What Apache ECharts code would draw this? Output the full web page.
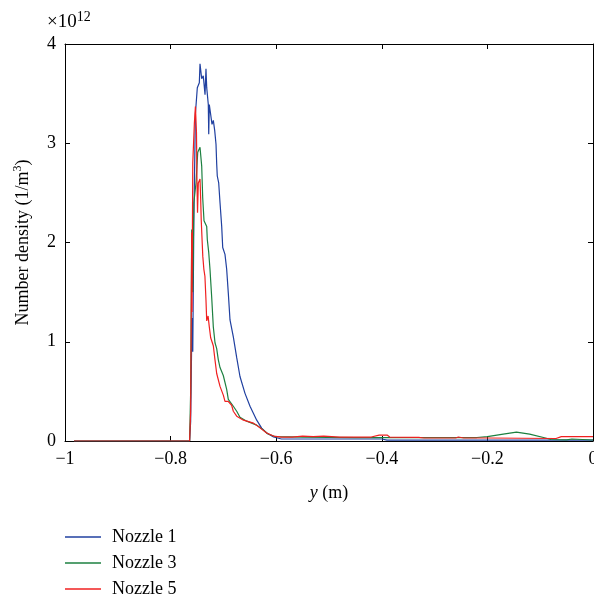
<!DOCTYPE html>
<html>
<head>
<meta charset="utf-8">
<script src="https://cdn.jsdelivr.net/npm/echarts@6/dist/echarts.min.js"></script>
<style>html,body{margin:0;padding:0;background:#fff;overflow:hidden}#c{width:594px;height:601px}</style>
</head>
<body>
<div id="c"></div>
<script>
// values in units of 1e12 (1/m^3)
var nozzle1X = [-0.983,-0.764,-0.762,-0.7595,-0.758,-0.756,-0.753,-0.7494,-0.7456,-0.7443,-0.7411,-0.7381,-0.7348,-0.7330,-0.7316,-0.7286,-0.7278,-0.7267,-0.7241,-0.7216,-0.7191,-0.7165,-0.7140,-0.7127,-0.7116,-0.7089,-0.7064,-0.7032,-0.7013,-0.6970,-0.6938,-0.6907,-0.6875,-0.6812,-0.6748,-0.6686,-0.6591,-0.6496,-0.6369,-0.6275,-0.6180,-0.605,-0.59,-0.40,-0.39,0];
var nozzle1Y = [0,0,0.2,1.24,0.9,2.2,3.3,3.56,3.61,3.80,3.65,3.68,3.49,3.75,3.56,3.39,3.09,3.39,3.29,3.19,3.23,3.13,2.99,2.79,2.67,2.60,2.40,2.16,1.95,1.88,1.73,1.49,1.22,1.05,0.84,0.65,0.48,0.35,0.21,0.13,0.08,0.04,0.02,0.02,0.008,0.008];
var nozzle3X = [-0.983,-0.764,-0.762,-0.760,-0.758,-0.756,-0.7519,-0.7486,-0.7443,-0.7411,-0.7392,-0.7367,-0.7316,-0.7305,-0.7278,-0.7254,-0.7222,-0.7191,-0.7159,-0.7127,-0.7097,-0.7064,-0.7002,-0.6938,-0.6907,-0.6812,-0.6748,-0.6686,-0.6559,-0.6369,-0.6244,-0.6155,-0.6023,-0.55,-0.45,-0.40,-0.33,-0.22,-0.20,-0.17,-0.145,-0.12,-0.09,-0.08,-0.05,-0.04,0];
var nozzle3Y = [0,0,0.5,2.13,1.5,2.4,2.6,2.91,2.96,2.77,2.45,2.22,2.16,2.03,1.90,1.73,1.45,1.15,0.99,0.93,0.82,0.74,0.66,0.52,0.42,0.35,0.30,0.24,0.20,0.16,0.11,0.07,0.045,0.04,0.035,0.033,0.035,0.035,0.045,0.07,0.09,0.07,0.03,0.015,0.012,0.02,0.01];
var nozzle5X = [-0.983,-0.764,-0.762,-0.760,-0.7595,-0.758,-0.755,-0.753,-0.751,-0.750,-0.749,-0.7475,-0.7443,-0.743,-0.742,-0.740,-0.739,-0.737,-0.735,-0.733,-0.7316,-0.729,-0.7267,-0.7241,-0.7191,-0.716,-0.7127,-0.7064,-0.700,-0.697,-0.691,-0.6844,-0.6812,-0.6748,-0.662,-0.643,-0.630,-0.618,-0.605,-0.59,-0.57,-0.55,-0.53,-0.51,-0.48,-0.42,-0.405,-0.39,-0.385,-0.33,-0.32,-0.26,-0.255,-0.245,-0.20,-0.07,-0.06,0];
var nozzle5Y = [0,0,0.3,2.1,1.3,2.8,3.2,3.37,3.11,2.6,2.3,2.6,2.64,2.43,2.23,1.98,1.86,1.73,1.66,1.42,1.21,1.26,1.15,1.04,0.96,0.82,0.68,0.55,0.46,0.40,0.40,0.36,0.30,0.25,0.21,0.18,0.13,0.08,0.05,0.04,0.04,0.05,0.045,0.05,0.04,0.04,0.06,0.06,0.04,0.037,0.03,0.03,0.04,0.03,0.03,0.025,0.044,0.044];
var seriesNames = ['Nozzle 1','Nozzle 3','Nozzle 5'];
var seriesColors = ['#2040a0','#1d8040','#f02020'];

function zip(a,b){return a.map(function(v,i){return [v,b[i]];});}
function fmtX(v){var s=String(Math.round(Math.abs(v)*10)/10); return v<0?'\u2212'+s:s;}
var FONT = '"Liberation Serif","DejaVu Serif",serif';

var chart = echarts.init(document.getElementById('c'));
var tickStyle = {show:true,inside:true,length:5,lineStyle:{color:'#000',width:1}};
var lineStyle = {show:true,onZero:false,lineStyle:{color:'#000',width:1}};
chart.setOption({
  animation:false,
  textStyle:{fontFamily:FONT},
  grid:{left:65,right:1,top:44,bottom:160,containLabel:false,outerBoundsMode:'none'},
  xAxis:[{
    type:'value',min:-1,max:0,interval:0.2,position:'bottom',
    axisLine:lineStyle,axisTick:tickStyle,splitLine:{show:false},
    axisLabel:{color:'#000',fontSize:18,fontFamily:FONT,margin:9,formatter:fmtX},
    name:'{i|y} (m)',nameLocation:'middle',nameGap:43,
    nameTextStyle:{color:'#000',fontSize:18,fontFamily:FONT,rich:{i:{fontStyle:'italic',fontSize:18,fontFamily:FONT,color:'#000'}}}
  },{
    type:'value',min:-1,max:0,interval:0.2,position:'top',
    axisLine:lineStyle,axisTick:tickStyle,splitLine:{show:false},axisLabel:{show:false}
  }],
  yAxis:[{
    type:'value',min:0,max:4,interval:1,position:'left',
    axisLine:lineStyle,axisTick:tickStyle,splitLine:{show:false},
    axisLabel:{color:'#000',fontSize:18,fontFamily:FONT,margin:9},
    name:'Number density (1/m{s|3})',nameLocation:'middle',nameGap:31,nameRotate:90,
    nameTextStyle:{color:'#000',fontSize:18,fontFamily:FONT,rich:{s:{fontSize:12,fontFamily:FONT,color:'#000',verticalAlign:'top',padding:[0,0,10,0]}}}
  },{
    type:'value',min:0,max:4,interval:1,position:'right',
    axisLine:lineStyle,axisTick:tickStyle,splitLine:{show:false},axisLabel:{show:false}
  }],
  legend:{
    show:true,orient:'vertical',left:65,top:528,height:72,padding:0,itemWidth:36,itemHeight:1.5,itemGap:8,
    icon:'rect',
    data:seriesNames,
    textStyle:{color:'#000',fontSize:18,fontFamily:FONT,padding:[0,0,0,6]}
  },
  graphic:[{
    type:'text',left:47,top:10,
    style:{text:'\u00d710{s|12}',font:'19px '+FONT,fill:'#000',
      rich:{s:{fontSize:14,fontFamily:FONT,fill:'#000',padding:[0,0,10,0]}}}
  }],
  series:[0,1,2].map(function(i){
    var xs=[nozzle1X,nozzle3X,nozzle5X][i], ys=[nozzle1Y,nozzle3Y,nozzle5Y][i];
    return {type:'line',name:seriesNames[i],data:zip(xs,ys),showSymbol:false,symbol:'none',
      lineStyle:{width:1.2,color:seriesColors[i]},itemStyle:{color:seriesColors[i]}};
  })
});
</script>
</body>
</html>
